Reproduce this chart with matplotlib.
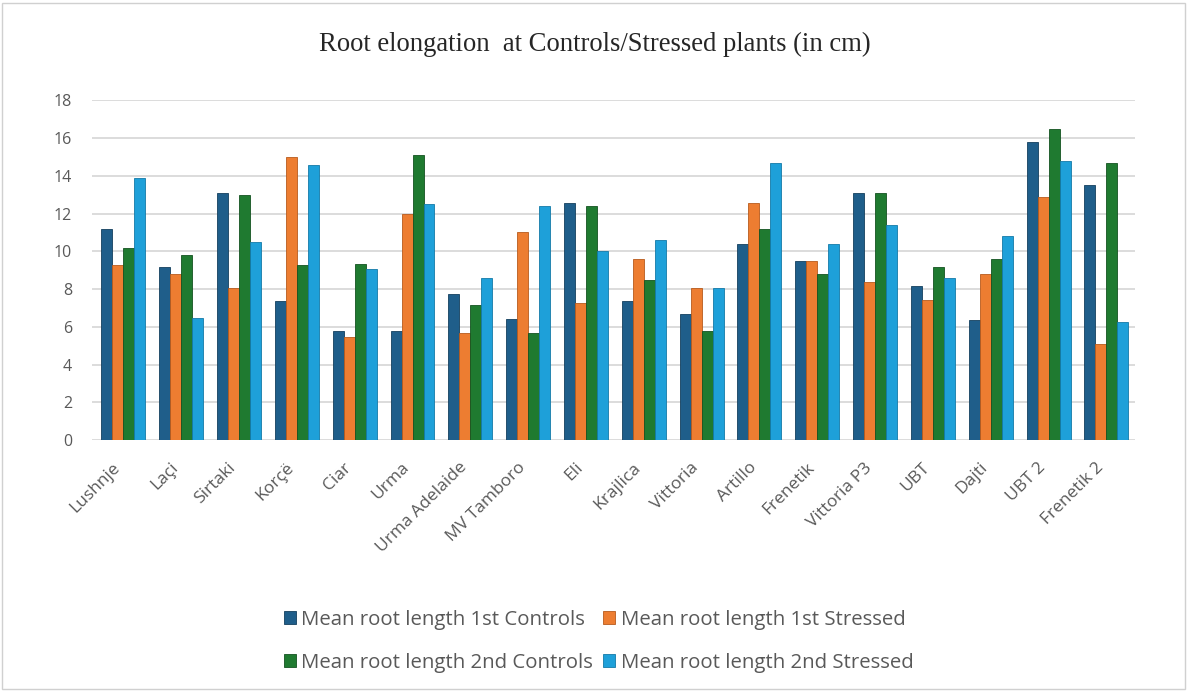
import matplotlib.pyplot as plt
import matplotlib.transforms as mtransforms
import numpy as np
from matplotlib.patches import Rectangle

varieties = ['Lushnje', 'Laçi', 'Sirtaki', 'Korçë', 'Ciar', 'Urma', 'Urma Adelaide',
             'MV Tamboro', 'Eli', 'Krajlica', 'Vittoria', 'Artillo', 'Frenetik',
             'Vittoria P3', 'UBT', 'Dajti', 'UBT 2', 'Frenetik 2']

controls_1 = [11.2, 9.15, 13.1, 7.35, 5.8, 5.8, 7.75, 6.4, 12.55, 7.35, 6.7, 10.4,
              9.5, 13.1, 8.15, 6.35, 15.8, 13.5]
stressed_1 = [9.3, 8.8, 8.05, 15.0, 5.45, 12.0, 5.65, 11.0, 7.25, 9.6, 8.05, 12.55,
              9.5, 8.4, 7.4, 8.8, 12.9, 5.1]
controls_2 = [10.2, 9.8, 13.0, 9.25, 9.35, 15.1, 7.15, 5.65, 12.4, 8.5, 5.8, 11.2,
              8.8, 13.1, 9.15, 9.6, 16.45, 14.7]
stressed_2 = [13.9, 6.45, 10.5, 14.55, 9.05, 12.5, 8.6, 12.4, 10.0, 10.6, 8.05, 14.7,
              10.4, 11.4, 8.6, 10.8, 14.8, 6.25]

series = [
    ('Mean root length 1st Controls', controls_1, '#1f5e8a', '#143f5e'),
    ('Mean root length 1st Stressed', stressed_1, '#ed7d31', '#b85a1c'),
    ('Mean root length 2nd Controls', controls_2, '#1f7a30', '#135220'),
    ('Mean root length 2nd Stressed', stressed_2, '#1ea0d9', '#137aa8'),
]

text_color = '#595959'
font = 'Open Sans'

fig = plt.figure(figsize=(11.9, 6.91), dpi=100)
ax = fig.add_axes([0.077, 0.363, 0.877, 0.492])

x = np.arange(len(varieties))
width = 0.19
bars = []
for i, (label, vals, color, edge) in enumerate(series):
    b = ax.bar(x + (i - 1.5) * width, vals, width, color=color, edgecolor=edge,
               linewidth=0.6, label=label, zorder=3)
    bars.append(b)

ax.set_xlim(-0.55, 17.5)
ax.set_ylim(0, 18)
ax.set_yticks(range(0, 19, 2))
ax.grid(axis='y', color='#d9d9d9', linewidth=1.3, zorder=0)
for s in ax.spines.values():
    s.set_visible(False)
ax.tick_params(length=0, colors=text_color)
ax.tick_params(axis='y', pad=14)
ax.tick_params(axis='x', pad=14)
ax.set_xticks(x)
ax.set_xticklabels(varieties, rotation=45, ha='right', rotation_mode='anchor',
                   fontfamily=font, fontsize=12.5, color=text_color)
shift = mtransforms.ScaledTranslation(-8 / 72, 0, fig.dpi_scale_trans)
for t in ax.get_xticklabels():
    t.set_transform(t.get_transform() + shift)
for t in ax.get_yticklabels():
    t.set_fontfamily(font)
    t.set_fontsize(11.5)

fig.text(0.5, 0.935, 'Root elongation  at Controls/Stressed plants (in cm)',
         ha='center', va='center', fontfamily='Liberation Serif', fontsize=19.2,
         color='#262626')

# legend rows: 1st Controls / 1st Stressed, then 2nd Controls / 2nd Stressed
order = [0, 2, 1, 3]
leg = fig.legend([bars[k] for k in order], [series[k][0] for k in order],
                 loc='center', bbox_to_anchor=(0.503, 0.072), ncol=2, frameon=False,
                 handlelength=0.6, handleheight=0.6, handletextpad=0.25,
                 columnspacing=0.5, labelspacing=1.15,
                 prop={'family': font, 'size': 14.7})
for t in leg.get_texts():
    t.set_color(text_color)

fig.patches.append(Rectangle((0.002, 0.003), 0.994, 0.993, transform=fig.transFigure,
                             fill=False, edgecolor='#d0d0d0', linewidth=1))

fig.savefig('out.png', dpi=100)
